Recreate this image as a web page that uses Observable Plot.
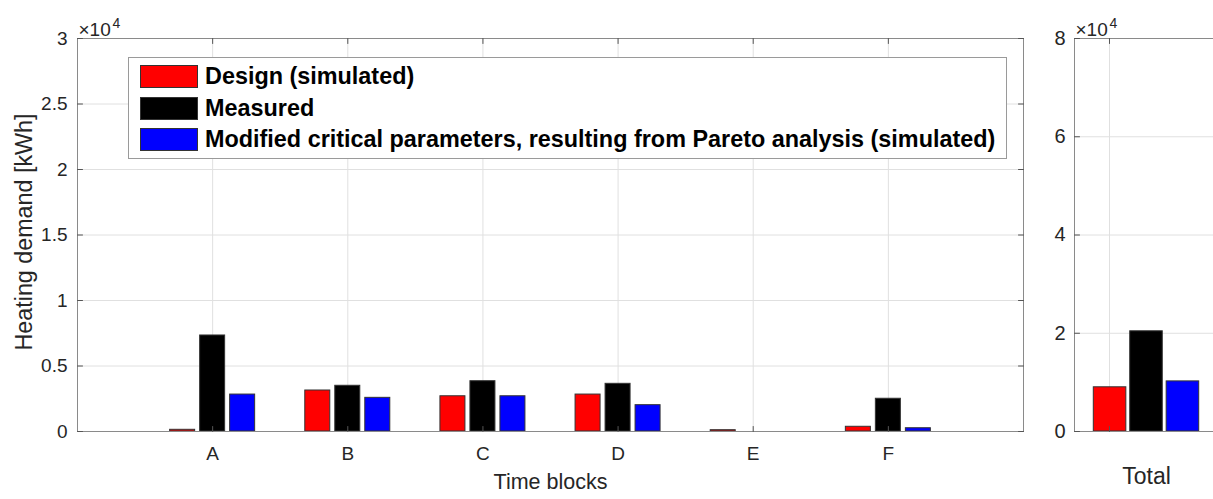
<!DOCTYPE html>
<html><head><meta charset="utf-8">
<script src="https://cdn.jsdelivr.net/npm/d3@7"></script>
<script src="https://cdn.jsdelivr.net/npm/@observablehq/plot@0.6"></script>
<style>
html,body{margin:0;padding:0;background:#fff;overflow:hidden;}
#wrap{position:relative;width:1213px;height:499px;overflow:hidden;font-family:"Liberation Sans",Arial,sans-serif;}
#left{position:absolute;left:0;top:0;width:1040px;height:499px;}
#right{position:absolute;left:1040px;top:0;width:180px;height:499px;}
#wrap svg{max-width:none !important;display:block;}
#legend{position:absolute;left:128px;top:57px;width:879px;height:102px;box-sizing:border-box;border:1px solid #9a9a9a;background:#fff;}
.row{position:absolute;left:11px;height:23px;display:flex;align-items:center;white-space:nowrap;}
.sw{width:58px;height:23px;border:1px solid #333;box-sizing:border-box;margin-right:7px;flex:none;}
.lt{font-weight:bold;font-size:23.4px;color:#000;line-height:23px;}
</style></head><body>
<div id="wrap"><div id="left"></div><div id="right"></div><div id="legend"></div></div>
<script>
// ---- data ----
const categories = ["A", "B", "C", "D", "E", "F"];
const seriesNames = ["Design (simulated)", "Measured", "Modified critical parameters, resulting from Pareto analysis (simulated)"];
const seriesColors = ["#ff0000", "#000000", "#0000ff"];
const design = [130, 3130, 2690, 2820, 100, 360];
const measured = [7330, 3490, 3840, 3640, 0, 2500];
const modified = [2820, 2570, 2690, 2010, 0, 250];
const totals = [9000, 20400, 10200];
const yTicksLeft = [0, 5000, 10000, 15000, 20000, 25000, 30000];
const yTicksRight = [0, 20000, 40000, 60000, 80000];
const xLabelLeft = "Time blocks";
const xLabelRight = "Total";
const yLabel = "Heating demand [kWh]";

// ---- helpers ----
const font = "Liberation Sans, Arial, sans-serif";
const gridColor = "#e0e0e0";
const frameColor = "#8a8a8a";
const tickShape = {draw(ctx, l) { ctx.moveTo(0, 0); ctx.lineTo(0, -l); }};
function inwardTicks(xs, ys, xDom, yDom) {
  const o = {length: 5, shape: tickShape, anchor: "start", stroke: "#555", strokeWidth: 1};
  return [
    Plot.vector(ys, {...o, x: xDom[0], y: d => d, rotate: 90}),
    Plot.vector(ys, {...o, x: xDom[1], y: d => d, rotate: -90}),
    Plot.vector(xs, {...o, x: d => d, y: yDom[0], rotate: 0}),
    Plot.vector(xs, {...o, x: d => d, y: yDom[1], rotate: 180})
  ];
}
function exponentLabel() {
  return [
    Plot.text(["×10"], {text: d => d, frameAnchor: "top-left", textAnchor: "start", lineAnchor: "bottom", dx: 1, dy: -3, fontSize: 19, fill: "#262626"}),
    Plot.text(["4"], {text: d => d, frameAnchor: "top-left", textAnchor: "start", lineAnchor: "bottom", dx: 35, dy: -11, fontSize: 14, fill: "#262626"})
  ];
}

// ---- left chart ----
const rows = [];
[design, measured, modified].forEach((arr, s) =>
  arr.forEach((v, i) => rows.push({pos: i + 1, s, series: seriesNames[s], value: v})));
const barW = 0.185, gap = 0.222;
const xDomL = [0, 7], yDomL = [0, 30000];
const positions = categories.map((c, i) => i + 1);

const left = Plot.plot({
  width: 1040, height: 499,
  marginLeft: 77, marginRight: 17, marginTop: 38, marginBottom: 68,
  style: {fontFamily: font, fontSize: "19px", color: "#262626", background: "transparent"},
  x: {domain: xDomL, axis: null, label: null},
  y: {domain: yDomL, axis: null, label: null},
  color: {domain: seriesNames, range: seriesColors},
  marks: [
    Plot.ruleY(yTicksLeft.slice(1, -1), {stroke: gridColor}),
    Plot.ruleX(positions, {stroke: gridColor}),
    Plot.rect(rows, {
      x1: d => d.pos + (d.s - 1) * gap - barW / 2,
      x2: d => d.pos + (d.s - 1) * gap + barW / 2,
      y1: 0, y2: "value", fill: "series", stroke: "#333", strokeWidth: 1
    }),
    Plot.frame({stroke: frameColor}),
    ...inwardTicks(positions, yTicksLeft, xDomL, yDomL),
    Plot.axisY(yTicksLeft, {tickSize: 0, tickPadding: 10, tickFormat: d => d / 1e4, fontSize: 19, label: null}),
    Plot.axisX(positions, {tickSize: 0, tickPadding: 15, tickFormat: d => categories[d - 1], fontSize: 19, label: null}),
    Plot.text([xLabelLeft], {text: d => d, frameAnchor: "bottom", textAnchor: "middle", lineAnchor: "middle", dy: 51, fontSize: 21.5, fill: "#262626"}),
    Plot.text([yLabel], {text: d => d, frameAnchor: "left", textAnchor: "middle", rotate: -90, lineAnchor: "middle", dx: -53, dy: -3, fontSize: 23.3, fill: "#262626"}),
    ...exponentLabel()
  ]
});
document.getElementById("left").appendChild(left);

// ---- right chart ----
const totalRows = totals.map((v, s) => ({s, series: seriesNames[s], value: v}));
const xDomR = [0, 1], yDomR = [0, 80000];
const totalTick = [0.243];
const right = Plot.plot({
  width: 180, height: 499,
  marginLeft: 34, marginRight: 2, marginTop: 38, marginBottom: 68,
  style: {fontFamily: font, fontSize: "19px", color: "#262626", background: "transparent"},
  x: {domain: xDomR, axis: null, label: null},
  y: {domain: yDomR, axis: null, label: null},
  color: {domain: seriesNames, range: seriesColors},
  marks: [
    Plot.ruleY(yTicksRight.slice(1, -1), {stroke: gridColor}),
    Plot.ruleX(totalTick, {stroke: gridColor}),
    Plot.rect(totalRows, {
      x1: d => 0.5 + (d.s - 1) * 0.253 - 0.113,
      x2: d => 0.5 + (d.s - 1) * 0.253 + 0.113,
      y1: 0, y2: "value", fill: "series", stroke: "#333", strokeWidth: 1
    }),
    Plot.frame({stroke: frameColor}),
    ...inwardTicks(totalTick, yTicksRight, xDomR, yDomR),
    Plot.axisY(yTicksRight, {tickSize: 0, tickPadding: 9, tickFormat: d => d / 1e4, fontSize: 20, label: null}),
    Plot.text([xLabelRight], {text: d => d, frameAnchor: "bottom", textAnchor: "middle", lineAnchor: "middle", dy: 45, fontSize: 23, fill: "#262626"}),
    ...exponentLabel()
  ]
});
document.getElementById("right").appendChild(right);

// ---- legend ----
const lg = document.getElementById("legend");
seriesNames.forEach((name, i) => {
  const r = document.createElement("div");
  r.className = "row";
  r.style.top = (7 + i * 31.7) + "px";
  const sw = document.createElement("div");
  sw.className = "sw";
  sw.style.background = seriesColors[i];
  const t = document.createElement("span");
  t.className = "lt";
  t.textContent = name;
  r.appendChild(sw); r.appendChild(t);
  lg.appendChild(r);
});
</script>
</body></html>
